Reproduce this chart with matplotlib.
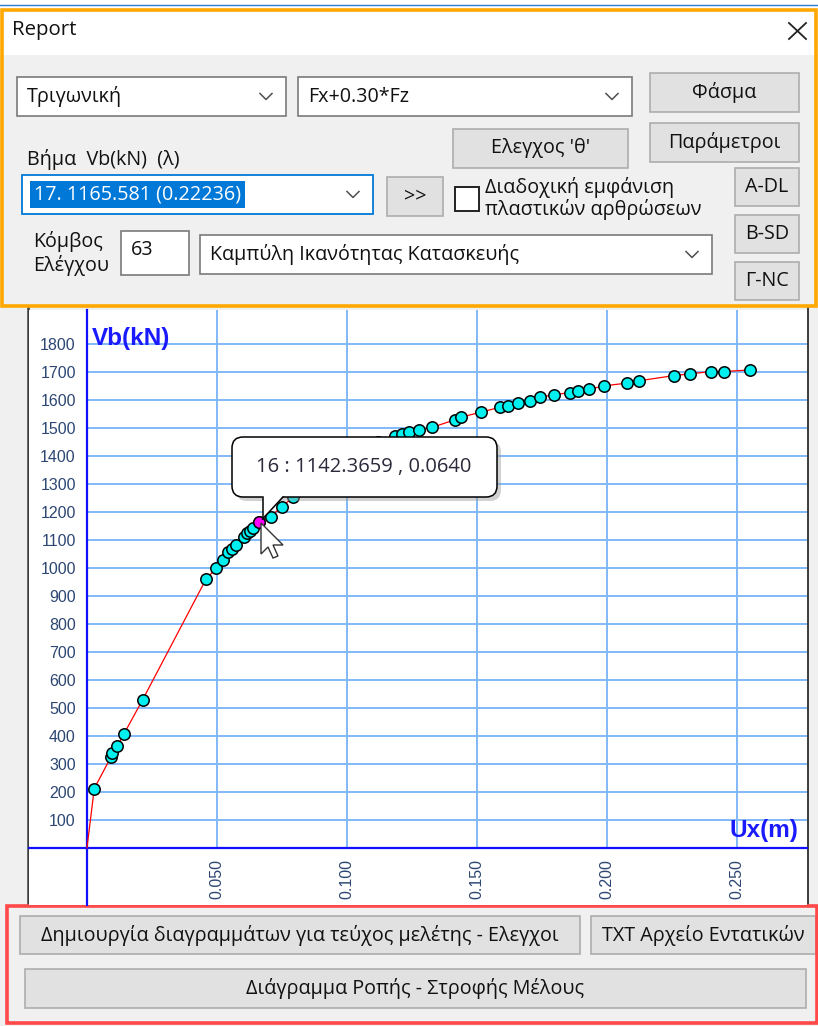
import matplotlib
matplotlib.use("Agg")
import matplotlib.pyplot as plt
from matplotlib.patches import Rectangle, FancyBboxPatch, Polygon

W, H = 818, 1026

# capacity curve (pushover) points: Ux (m), Vb (kN)
ux = [0.0, 0.0028, 0.0093, 0.0098, 0.0117, 0.0141, 0.0214, 0.0458, 0.0496, 0.0522,
      0.0544, 0.0556, 0.0572, 0.0604, 0.0614, 0.0626, 0.0640, 0.0663, 0.0706, 0.0749,
      0.0793, 0.0860, 0.0940, 0.1030, 0.1120, 0.1185, 0.1210, 0.1240, 0.1278, 0.1328,
      0.1415, 0.1438, 0.1514, 0.1590, 0.1620, 0.1658, 0.1704, 0.1742, 0.1795, 0.1856,
      0.1887, 0.1932, 0.1988, 0.2077, 0.2122, 0.2259, 0.2320, 0.2399, 0.2449, 0.2548]
vb = [0, 212, 326, 338, 364, 405, 529, 960, 998, 1029,
      1055, 1068, 1082, 1110, 1124, 1132, 1142.37, 1165.58, 1183, 1219,
      1252, 1300, 1355, 1405, 1448, 1470, 1479, 1487, 1493, 1502,
      1529, 1538, 1556, 1574, 1579, 1590, 1597, 1610, 1618, 1626,
      1632, 1638, 1650, 1660, 1668, 1687, 1693, 1701, 1701, 1707]
sel_step = 17
x_ticks = [0.05, 0.10, 0.15, 0.20, 0.25]
x_labels = ["0.050", "0.100", "0.150", "0.200", "0.250"]
y_ticks = list(range(100, 1900, 100))
tooltip = "16 : 1142.3659 , 0.0640"

UI = "Open Sans"
FS = 14.2

fig = plt.figure(figsize=(W / 100, H / 100), dpi=100)
fig.patch.set_facecolor("#f0f0f0")

bg = fig.add_axes([0, 0, 1, 1], zorder=0)
bg.set_xlim(0, W)
bg.set_ylim(H, 0)
bg.axis("off")


def box(a, x0, y0, x1, y1, fc, ec, lw=1.0, z=1):
    a.add_patch(Rectangle((x0, y0), x1 - x0, y1 - y0, facecolor=fc, edgecolor=ec, linewidth=lw, zorder=z))


def button(x0, y0, x1, y1, label):
    box(bg, x0, y0, x1, y1, "#e1e1e1", "#adadad", 1.2)
    bg.text((x0 + x1) / 2, (y0 + y1) / 2, label, ha="center", va="center", family=UI, fontsize=FS, color="#111111", zorder=3)


def chevron(cx, cy):
    bg.plot([cx - 6, cx, cx + 6], [cy - 3, cy + 3, cy - 3], color="#505050", lw=1.1, zorder=3)


def combo(x0, y0, x1, y1, label, ec="#7a7a7a"):
    box(bg, x0, y0, x1, y1, "white", ec, 1.2)
    bg.text(x0 + 10, (y0 + y1) / 2, label, ha="left", va="center", family=UI, fontsize=FS, color="#111111", zorder=3)
    chevron(x1 - 20, (y0 + y1) / 2)


# top panel
box(bg, 0, 0, W, 9, "white", "none")
bg.plot([0, W], [5, 5], color="#2b7cd3", lw=1, zorder=2)
box(bg, 0, 9, W, 55, "white", "none")
box(bg, 0, 55, W, 307, "#f0f0f0", "none")
bg.add_patch(Rectangle((2, 10), W - 4, 296, facecolor="none", edgecolor="#ffa800", linewidth=2.6, zorder=5))
bg.text(12, 30, "Report", ha="left", va="center", family=UI, fontsize=FS + 0.5, color="#111111")
bg.plot([789, 806], [23, 39], color="#222222", lw=1.3)
bg.plot([789, 806], [39, 23], color="#222222", lw=1.3)

combo(17, 77, 286, 116, "Τριγωνική")
combo(298, 77, 632, 116, "Fx+0.30*Fz")
button(650, 73, 799, 112, "Φάσμα")
button(453, 129, 628, 168, "Ελεγχος 'θ'")
button(650, 123, 799, 162, "Παράμετροι")
bg.text(27, 159, "Βήμα  Vb(kN)  (λ)", ha="left", va="center", family=UI, fontsize=FS, color="#111111")

box(bg, 22, 175, 373, 214, "white", "#0078d7", 1.3)
bg.text(34, 194.5, "17. 1165.581 (0.22236)", ha="left", va="center", family=UI, fontsize=FS, color="white",
        bbox=dict(facecolor="#0078d7", edgecolor="none", pad=2.5), zorder=3)
chevron(353, 194.5)
button(387, 177, 443, 216, ">>")
box(bg, 455, 187, 479, 211, "white", "#222222", 1.4)
bg.text(485, 187, "Διαδοχική εμφάνιση", ha="left", va="center", family=UI, fontsize=FS, color="#111111")
bg.text(485, 210, "πλαστικών αρθρώσεων", ha="left", va="center", family=UI, fontsize=FS, color="#111111")
button(735, 168, 799, 206, "A-DL")
button(735, 215, 799, 253, "B-SD")
button(735, 262, 799, 300, "Γ-NC")

bg.text(33, 242, "Κόμβος", ha="left", va="center", family=UI, fontsize=FS, color="#111111")
bg.text(33, 265, "Ελέγχου", ha="left", va="center", family=UI, fontsize=FS, color="#111111")
box(bg, 121, 231, 189, 275, "white", "#7a7a7a", 1.2)
bg.text(131, 250, "63", ha="left", va="center", family=UI, fontsize=FS, color="#111111")
combo(200, 235, 712, 274, "Καμπύλη Ικανότητας Κατασκευής")

# chart frame
box(bg, 0, 307, 29, 905, "#f0f0f0", "none")
box(bg, 808, 307, W, 905, "#f0f0f0", "none")
bg.plot([28, 28], [307, 905], color="#3c3c3c", lw=1.8, zorder=4)
bg.plot([807.5, 807.5], [307, 905], color="#3c3c3c", lw=1.4, zorder=4)

# bottom panel
box(bg, 0, 905, W, H, "#f0f0f0", "none")
bg.add_patch(Rectangle((7, 906), W - 8, 117, facecolor="none", edgecolor="#ff4848", linewidth=2.6, zorder=5))
button(20, 916, 580, 954, "Δημιουργία διαγραμμάτων για τεύχος μελέτης - Ελεγχοι")
button(591, 916, 816, 954, "TXT Αρχείο Εντατικών")
button(25, 969, 806, 1008, "Διάγραμμα Ροπής - Στροφής Μέλους")

# the chart itself
ax = fig.add_axes([29 / W, 1 - 905 / H, (807 - 29) / W, (905 - 310) / H], zorder=1)
ax.set_facecolor("white")
ax.set_xlim(-0.0223, 0.2769)
ax.set_ylim(-204, 1921)
xmax = ax.get_xlim()[1]
ymax = ax.get_ylim()[1]

ax.hlines(y_ticks, 0, xmax, color="#80b9f7", lw=1.4, zorder=1)
ax.vlines(x_ticks, 0, ymax, color="#80b9f7", lw=1.4, zorder=1)

for s in ["top", "right"]:
    ax.spines[s].set_visible(False)
for s in ["left", "bottom"]:
    ax.spines[s].set_position(("data", 0))
    ax.spines[s].set_color("#1010ff")
    ax.spines[s].set_linewidth(1.6)
    ax.spines[s].set_zorder(2)

ax.set_xticks(x_ticks, x_labels, rotation=90)
ax.set_yticks(y_ticks)
ax.tick_params(length=0, pad=8, labelsize=11.5, labelcolor="#2c4672")
for lab in ax.get_xticklabels() + ax.get_yticklabels():
    lab.set_family("Liberation Sans")

# line starts at the origin, markers only on the computed steps
ax.plot(ux, vb, color="red", lw=0.9, zorder=3)
ax.plot(ux[1:], vb[1:], "o", ms=8.2, mfc="#00f0f0", mec="black", mew=1.1, lw=0, zorder=4)
ax.plot(ux[sel_step], vb[sel_step], "o", ms=8.2, mfc="#ff00ff", mec="black", mew=1.0, zorder=5)

# overlay: axis titles, tooltip, cursor
fg = fig.add_axes([0, 0, 1, 1], zorder=3)
fg.set_xlim(0, W)
fg.set_ylim(H, 0)
fg.axis("off")
fg.patch.set_alpha(0)

fg.text(92, 338, "Vb(kN)", ha="left", va="center", fontsize=17.5, fontweight="bold", color="#1a1aff", family="Liberation Sans")
fg.text(798, 830, "Ux(m)", ha="right", va="center", fontsize=17.5, fontweight="bold", color="#1a1aff", family="Liberation Sans")

fg.add_patch(FancyBboxPatch((236, 441), 265, 60, boxstyle="round,pad=0,rounding_size=11",
                            facecolor="#9a9a9a", edgecolor="none", alpha=0.45, zorder=1))
fg.add_patch(FancyBboxPatch((232, 437), 265, 60, boxstyle="round,pad=0,rounding_size=11",
                            facecolor="white", edgecolor="black", linewidth=1.1, zorder=2))
fg.add_patch(Polygon([(262.5, 496), (262.5, 519), (283, 496)], closed=True, facecolor="white", edgecolor="none", zorder=3))
fg.plot([262.5, 262.5], [497, 519], color="black", lw=1.1, zorder=4)
fg.plot([262.5, 283], [519, 497], color="black", lw=1.1, zorder=4)
fg.text(364, 467, tooltip, ha="center", va="center", family=UI, fontsize=14.5, color="#2a2a3a", zorder=5)

cursor = [(0, 0), (0, 31), (7, 24), (12, 35), (17, 33), (12, 22), (22, 22)]
fg.add_patch(Polygon([(261 + dx, 523 + dy) for dx, dy in cursor], closed=True,
                     facecolor="white", edgecolor="#333333", linewidth=1.0, zorder=6))

fig.savefig("out.png", dpi=100)
